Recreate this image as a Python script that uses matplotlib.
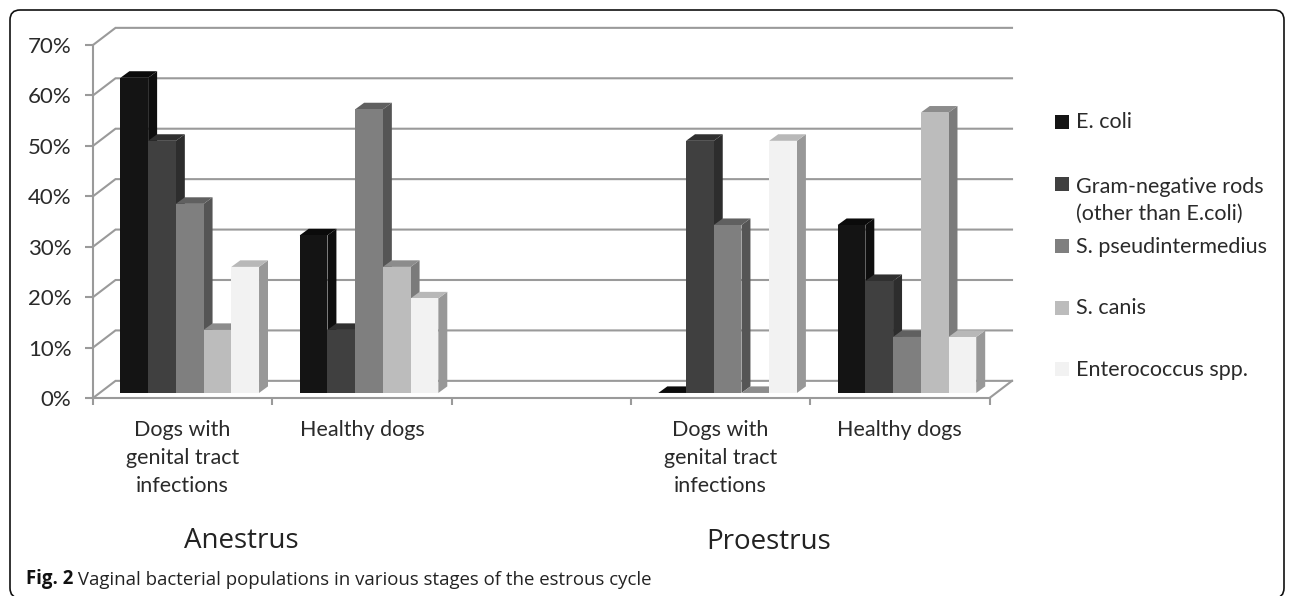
import matplotlib
matplotlib.use("Agg")
import matplotlib.pyplot as plt
from matplotlib.patches import Polygon, FancyBboxPatch, Rectangle

plt.rcParams['font.family'] = ['Lato', 'DejaVu Sans']

# Data
groups = ["Dogs with\ngenital tract\ninfections", "Healthy dogs", "", "Dogs with\ngenital tract\ninfections", "Healthy dogs"]
ecoli = [62.5, 31.25, None, 0, 33.3]
gram_neg = [50, 12.5, None, 50, 22.2]
pseud = [37.5, 56.25, None, 33.3, 11.1]
canis = [12.5, 25, None, 0, 55.6]
entero = [25, 18.75, None, 50, 11.1]
series = [ecoli, gram_neg, pseud, canis, entero]
labels = ["E. coli", "Gram-negative rods\n(other than E.coli)", "S. pseudintermedius", "S. canis", "Enterococcus spp."]
yticks = [0, 10, 20, 30, 40, 50, 60, 70]

front = ['#141414', '#404040', '#7f7f7f', '#bcbcbc', '#f2f2f2']
side = ['#0e0e0e', '#2d2d2d', '#555555', '#7b7b7b', '#989898']
top = ['#0b0b0b', '#303030', '#606060', '#8c8c8c', '#b8b8b8']
grid_col = '#9a9a9a'
text_col = '#2a2a2a'

W, H = 1295, 596
fig = plt.figure(figsize=(W / 100, H / 100), dpi=100)

# page level overlay in pixel coordinates
page = fig.add_axes([0, 0, 1, 1])
page.set_xlim(0, W)
page.set_ylim(H, 0)
page.axis('off')
page.add_patch(FancyBboxPatch((10, 10), 1274, 588, boxstyle="round,pad=0,rounding_size=10",
                              fc='white', ec='#111111', lw=1.2))

# chart axes: x is category, y is percent
left, right, y0, y70 = 93, 989.5, 398, 45
ax = fig.add_axes([left / W, 1 - y0 / H, (right - left) / W, (y0 - y70) / H])
ax.patch.set_alpha(0)
ax.set_xlim(0, 5)
ax.set_ylim(0, 70)
for s in ['top', 'right']:
    ax.spines[s].set_visible(False)
for s in ['left', 'bottom']:
    ax.spines[s].set_color(grid_col)
    ax.spines[s].set_linewidth(1.5)

ax.set_yticks(yticks)
ax.set_yticklabels([f"{v}%" for v in yticks], fontsize=16, color=text_col)
ax.tick_params(axis='y', length=5.5, width=1.5, color=grid_col, pad=10)
ax.set_xticks(range(6))
ax.set_xticklabels([])
ax.tick_params(axis='x', which='major', length=5, width=1.5, color=grid_col)
ax.set_xticks([0.5, 1.5, 2.5, 3.5, 4.5], minor=True)
ax.set_xticklabels(groups, minor=True, fontsize=15.5, color=text_col, linespacing=1.48)
ax.tick_params(axis='x', which='minor', length=0, pad=16)

# walls
wall_dx, wall_dy = 0.1255, 3.4
for v in yticks:
    ax.plot([0, wall_dx, 5 + wall_dx], [v, v + wall_dy, v + wall_dy], color=grid_col, lw=1.5,
            clip_on=False, zorder=1, solid_joinstyle='miter')
ax.plot([5, 5 + wall_dx], [0, wall_dy], color=grid_col, lw=1.5, clip_on=False, zorder=1)

# 3D looking bars
bar_w = 0.1546
offset = 0.153
depth_x, depth_y = 0.05, 1.3
base = 1.0
z = 2
for g in range(5):
    for i, vals in enumerate(series):
        v = vals[g]
        if v is None:
            continue
        x0 = g + offset + i * bar_w
        x1 = x0 + bar_w
        yb = base
        yt = base + v
        ax.add_patch(Polygon([(x1, yb), (x1 + depth_x, yb + depth_y), (x1 + depth_x, yt + depth_y), (x1, yt)],
                             fc=side[i], ec='none', zorder=z, clip_on=False))
        ax.add_patch(Polygon([(x0, yt), (x0 + depth_x, yt + depth_y), (x1 + depth_x, yt + depth_y), (x1, yt)],
                             fc=top[i], ec='none', zorder=z, clip_on=False))
        ax.bar(x0, v, width=bar_w, bottom=base, align='edge', color=front[i], zorder=z + 0.5, clip_on=False)
        z += 1

# legend, baselines are for the last line of each entry
legend_y = [122, 183.5, 246, 307.5, 369]
legend_base = [128, 220, 253, 314, 376]
for lab, c, ly, lb in zip(labels, front, legend_y, legend_base):
    page.add_patch(Rectangle((1055, ly - 7), 14, 14, fc=c, ec='none'))
    page.text(1076, lb, lab, fontsize=15.5, color=text_col, va='baseline', ha='left', linespacing=1.45)

page.text(241, 541, "Anestrus", fontsize=20, family=['Open Sans'], color='#222222', ha='center', va='center')
page.text(769, 542, "Proestrus", fontsize=20, family=['Open Sans'], color='#222222', ha='center', va='center')

fig_txt = page.text(26, 584, "Fig. 2", fontsize=13.4, fontweight='bold', family=['Open Sans'], color='#111111', va='baseline')
page.annotate(" Vaginal bacterial populations in various stages of the estrous cycle",
              xy=(1, 0), xycoords=fig_txt, va='bottom', fontsize=13.4, family=['Open Sans'], color='#222222')

fig.savefig("out.png", dpi=100)
